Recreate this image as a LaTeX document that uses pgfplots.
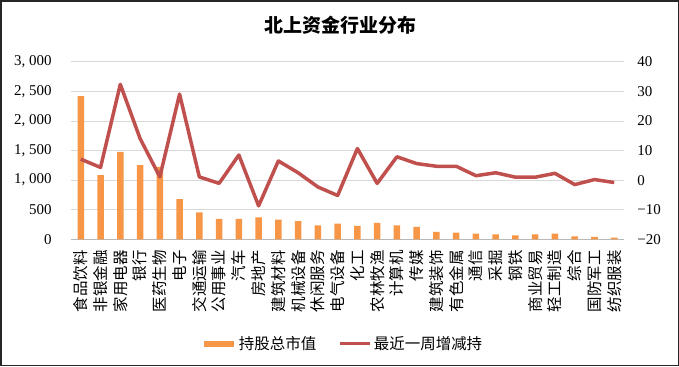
\documentclass[border=0pt]{standalone}
\usepackage{pgfplots}
\pgfplotsset{compat=1.18}
\usepackage{fontspec}
\setmainfont{Liberation Serif}
\newfontfamily\cjk{Noto Sans CJK SC}
\usetikzlibrary{calc}
\definecolor{barorange}{RGB}{247,150,70}
\definecolor{linered}{RGB}{192,80,77}
\definecolor{gridgray}{RGB}{217,217,217}

\pgfplotstableread{
x val chg
0 2420 7.1
1 1083 4.3
2 1478 32.4
3 1252 14.1
4 1224 1.1
5 677 29.1
6 457 1.1
7 344 -1.1
8 344 8.5
9 372 -8.7
10 333 6.5
11 305 2.5
12 237 -2.3
13 265 -5.2
14 226 10.7
15 276 -1.1
16 237 7.9
17 209 5.6
18 124 4.7
19 113 4.7
20 96 1.5
21 85 2.5
22 68 1.0
23 85 1.0
24 96 2.3
25 51 -1.5
26 40 0.2
27 28 -0.8
}\datatable

\begin{document}
\begin{tikzpicture}
\begin{axis}[
  name=ax,
  scale only axis,
  width=552bp, height=177bp,
  xmin=-0.5, xmax=27.5,
  ymin=0, ymax=3000,
  axis x line*=bottom,
  axis y line*=left,
  y axis line style={draw=none},
  x axis line style={draw=gray!55, line width=0.8pt, -},
  major tick length=0pt,
  ytick={0,500,1000,1500,2000,2500,3000},
  yticklabels={0,500,{1, 000},{1, 500},{2, 000},{2, 500},{3, 000}},
  yticklabel style={font=\fontsize{15}{17}\selectfont, inner sep=0pt, xshift=-19bp},
  ymajorgrids,
  grid style={gridgray, line width=0.9pt},
  xtick=data,
  xticklabels={食品饮料,非银金融,家用电器,银行,医药生物,电子,交通运输,公用事业,汽车,房地产,建筑材料,机械设备,休闲服务,电气设备,化工,农林牧渔,计算机,传媒,建筑装饰,有色金属,通信,采掘,钢铁,商业贸易,轻工制造,综合,国防军工,纺织服装},
  xticklabel style={font=\cjk\fontsize{15.5}{17}\selectfont, yshift=-11bp, rotate=90, anchor=east, inner sep=0pt},
  title={\cjk\bfseries 北上资金行业分布},
  title style={font=\fontsize{19}{21}\selectfont, at={(0.5,1)}, anchor=center, yshift=31bp, xshift=-7bp},
]
\addplot[ybar, bar width=6.5bp, fill=barorange, draw=none] table[x=x, y=val] {\datatable};
\end{axis}
\begin{axis}[
  scale only axis,
  width=552bp, height=177bp,
  xmin=-0.5, xmax=27.5,
  ymin=-20, ymax=40,
  axis x line=none,
  axis y line*=right,
  y axis line style={draw=none},
  major tick length=0pt,
  ytick={-20,-10,0,10,20,30,40},
  yticklabels={−20,−10,0,10,20,30,40},
  yticklabel style={font=\fontsize{15}{17}\selectfont, inner sep=0pt, xshift=13bp},
  legend columns=2,
  legend style={at={(0.5,0)}, anchor=center, yshift=-104bp, xshift=-5bp, draw=none, fill=none,
    font=\cjk\fontsize{15.5}{17}\selectfont,
    /tikz/every even column/.style={column sep=20bp}},
  legend image code/.code={\draw[#1] (0bp,0bp) -- (30bp,0bp);},
]
\addlegendimage{color=barorange, line width=6bp}
\addlegendentry{持股总市值}
\addplot[color=linered, line width=3.5bp, line join=round] table[x=x, y=chg] {\datatable};
\addlegendentry{最近一周增减持}
\end{axis}
\draw[line width=1.5bp, black!85] ($(ax.south west)+(-70bp,-126bp)$) rectangle ($(ax.north east)+(54bp,61bp)$);
\end{tikzpicture}
\end{document}
